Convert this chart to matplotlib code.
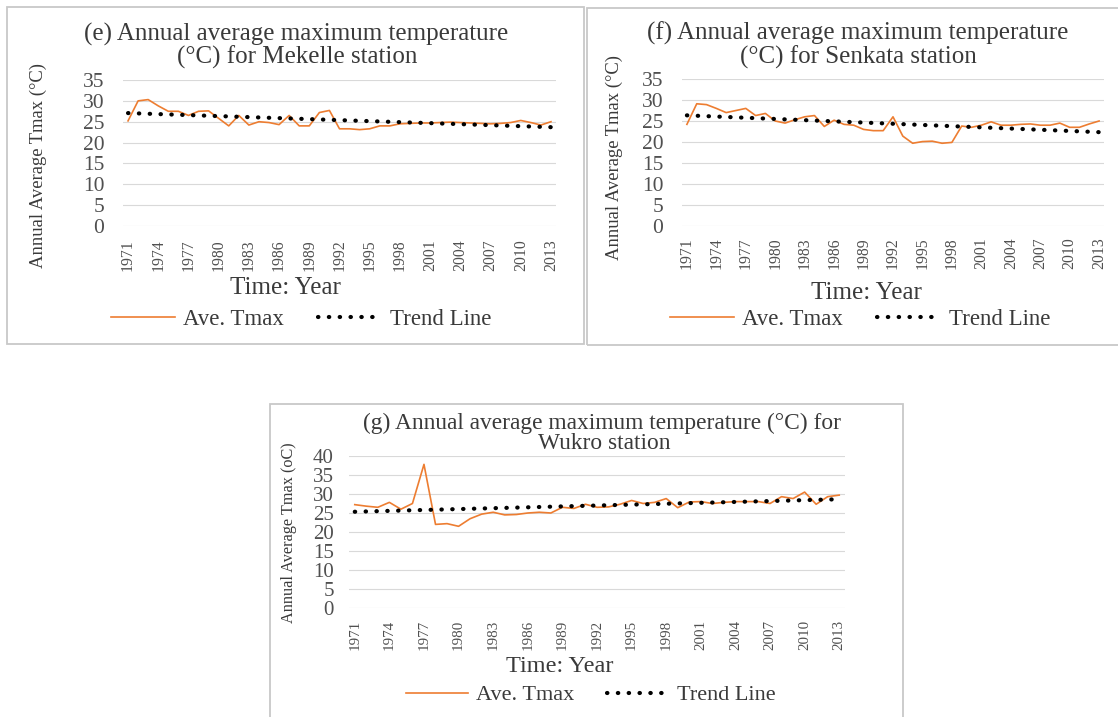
import matplotlib.pyplot as plt
import numpy as np
from matplotlib.patches import Rectangle

years = list(range(1971, 2014))
year_ticks = years[::3]

tmax_mekelle = [25.2, 30.0, 30.3, 28.8, 27.5, 27.5, 26.5, 27.5, 27.6, 25.8,
                24.0, 26.5, 24.2, 25.0, 24.8, 24.3, 26.5, 24.0, 24.0, 27.2,
                27.7, 23.3, 23.3, 23.1, 23.3, 24.0, 24.0, 24.5, 24.6, 24.7,
                24.7, 24.8, 24.9, 24.8, 24.7, 24.6, 24.5, 24.6, 24.8, 25.3,
                24.8, 24.2, 25.0]

tmax_senkata = [24.2, 29.1, 28.9, 28.0, 27.0, 27.5, 28.0, 26.3, 26.8, 25.0,
                24.5, 25.3, 26.0, 26.3, 23.7, 25.2, 24.2, 24.0, 23.0, 22.7,
                22.7, 26.0, 21.4, 19.7, 20.1, 20.2, 19.7, 19.9, 23.8, 23.5,
                24.0, 24.8, 24.0, 24.0, 24.2, 24.3, 24.0, 24.0, 24.5, 23.5,
                23.5, 24.3, 25.0]

tmax_wukro = [27.2, 26.8, 26.5, 27.8, 26.0, 27.5, 37.8, 22.0, 22.2, 21.5,
              23.5, 24.7, 25.2, 24.5, 24.6, 25.0, 25.2, 25.0, 26.5, 26.2,
              27.3, 26.5, 26.6, 27.3, 28.3, 27.5, 27.8, 28.8, 26.4, 27.9,
              28.0, 27.5, 27.8, 28.0, 28.0, 28.0, 27.5, 29.3, 28.8, 30.5,
              27.3, 29.3, 29.7]

W, H = 1118, 717
SERIF = 'Liberation Serif'
ORANGE = '#ED7D31'
TXT = '#3A3A3A'
TICK = '#505050'


def rect(left, top, right, bottom):
    return [left / W, 1 - bottom / H, (right - left) / W, (bottom - top) / H]


def ftext(fig, x, y, s, **kw):
    kw.setdefault('family', SERIF)
    kw.setdefault('color', TXT)
    kw.setdefault('ha', 'center')
    kw.setdefault('va', 'center')
    fig.text(x / W, 1 - y / H, s, **kw)


def draw_panel(fig, box, ax_px, tmax, ymax, titles, ylabel, xlabel_pos,
               ylabel_pos, legend_pos, sizes, ypad, xpad):
    title_fs, tick_fs, year_fs, ylab_fs, xlab_fs, leg_fs = sizes

    x0, y0, x1, y1 = box
    fig.add_artist(Rectangle((x0 / W, 1 - y1 / H), (x1 - x0) / W, (y1 - y0) / H,
                             transform=fig.transFigure, fill=False,
                             ec='#C8C8C8', lw=1.3))

    ax = fig.add_axes(rect(*ax_px))
    yrs = np.array(years)
    ax.plot(yrs, tmax, color=ORANGE, lw=1.2, label='Ave. Tmax')

    # linear trend of the annual series
    slope, icpt = np.polyfit(yrs, tmax, 1)
    ax.plot(yrs, slope * yrs + icpt, color='black', lw=3.0,
            linestyle=(0, (0.1, 2.5)), dash_capstyle='round',
            label='Trend Line')

    ax.set_xlim(1970.5, 2013.5)
    ax.set_ylim(0, ymax)
    ax.set_yticks(np.arange(0, ymax + 1, 5))
    ax.set_xticks(year_ticks)
    ax.set_xticklabels([str(y) for y in year_ticks], rotation=90,
                       family=SERIF, fontsize=year_fs, color=TICK)
    for lbl in ax.get_yticklabels():
        lbl.set_family(SERIF)
        lbl.set_fontsize(tick_fs)
        lbl.set_color(TICK)
    ax.tick_params(axis='both', length=0)
    ax.tick_params(axis='y', pad=ypad)
    ax.tick_params(axis='x', pad=xpad)
    ax.grid(axis='y', color='#D9D9D9', lw=0.8)
    ax.set_axisbelow(True)
    for sp in ax.spines.values():
        sp.set_visible(False)

    for (tx, ty), s in zip(titles[0], titles[1]):
        ftext(fig, tx, ty, s, fontsize=title_fs)
    ftext(fig, *ylabel_pos, ylabel, fontsize=ylab_fs, rotation=90)
    ftext(fig, *xlabel_pos, 'Time: Year', fontsize=xlab_fs)

    handles, labels = ax.get_legend_handles_labels()
    fig.legend(handles, labels, loc='center',
               bbox_to_anchor=(legend_pos[0] / W, 1 - legend_pos[1] / H),
               ncol=2, frameon=False, handlelength=2.8, handletextpad=0.35,
               columnspacing=1.5, prop={'family': SERIF, 'size': leg_fs},
               labelcolor=TXT)
    return ax


fig = plt.figure(figsize=(W / 100, H / 100), dpi=100)
fig.patch.set_facecolor('white')

draw_panel(fig, (7, 7, 584, 344), (123, 80, 556, 226), tmax_mekelle, 35,
           ([(296, 34), (297, 57)],
            ['(e) Annual average maximum temperature',
             '(°C) for Mekelle station']),
           'Annual Average Tmax (°C)', (285, 288), (38, 166), (301, 319),
           (18, 15.5, 11.3, 13.4, 18, 16.5), 13.5, 9.4)

draw_panel(fig, (587, 8, 1130, 345), (682, 79, 1104, 226), tmax_senkata, 35,
           ([(858, 33), (858, 57)],
            ['(f) Annual average maximum temperature',
             '(°C) for Senkata station']),
           'Annual Average Tmax (°C)', (866, 293), (614, 157), (860, 319),
           (18, 15.5, 11.3, 13.4, 18, 16.5), 13.5, 8.0)

draw_panel(fig, (270, 404, 903, 740), (349, 456, 845, 608), tmax_wukro, 40,
           ([(602, 423), (604, 444)],
            ['(g) Annual average maximum temperature (°C) for',
             'Wukro station']),
           'Annual Average Tmax (oC)', (560, 666), (289, 533), (591, 695),
           (16.8, 15, 10.8, 11.7, 17.5, 16), 11, 8.6)

fig.savefig('out.png', dpi=100, facecolor='white')
